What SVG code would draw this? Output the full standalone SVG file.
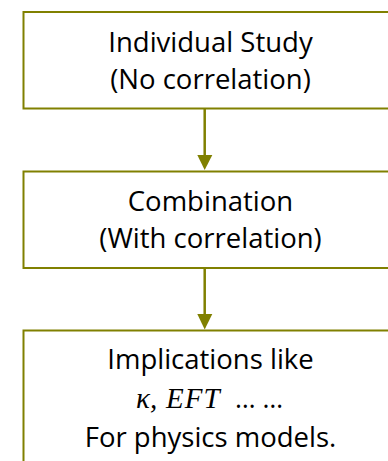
<svg xmlns="http://www.w3.org/2000/svg" width="388" height="461" viewBox="0 0 388 461">
<style>
.box{fill:#ffffff;stroke:#808000;stroke-width:2}
.lbl{font-family:"Open Sans","Noto Sans","Liberation Sans",sans-serif;font-size:27.5px;fill:#000;text-anchor:middle}
.math{font-family:"Liberation Serif","DejaVu Serif",serif;font-style:italic;font-size:29px;fill:#000}
.dots{font-family:"Open Sans","Noto Sans","Liberation Sans",sans-serif;font-size:26.5px;fill:#000}
.conn{stroke:#808000;stroke-width:2.5;fill:none}
.head{fill:#808000}
</style>
<rect width="388" height="461" fill="#ffffff"/>
<g id="n1">
<rect class="box" x="23.5" y="12" width="374" height="96.5"/>
<text class="lbl" x="210.5" y="51.5">Individual Study</text>
<text class="lbl" x="210.5" y="89">(No correlation)</text>
</g>
<g id="n2">
<rect class="box" x="23.5" y="171.5" width="374" height="96.5"/>
<text class="lbl" x="210.5" y="210.5">Combination</text>
<text class="lbl" x="210.5" y="247.5">(With correlation)</text>
</g>
<g id="n3">
<rect class="box" x="23.5" y="330.5" width="374" height="150"/>
<text class="lbl" x="210.5" y="369">Implications like</text>
<text class="math" x="136" y="408">κ,</text>
<text class="math" x="166" y="408" letter-spacing="1">EFT</text>
<text class="dots" x="235" y="408">… …</text>
<text class="lbl" x="210.5" y="446.5">For physics models.</text>
</g>
<g id="connectors">
<line class="conn" x1="204.7" y1="109" x2="204.7" y2="156"/>
<polygon class="head" points="197.3,155 212.3,155 204.7,170"/>
<line class="conn" x1="204.7" y1="268.5" x2="204.7" y2="315"/>
<polygon class="head" points="197.3,314 212.3,314 204.7,329.5"/>
</g>
</svg>
